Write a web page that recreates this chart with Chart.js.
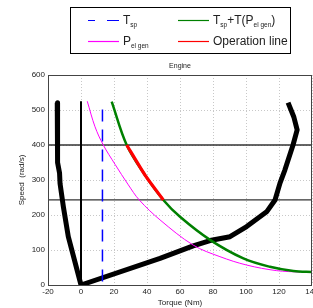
<!DOCTYPE html>
<html>
<head>
<meta charset="utf-8">
<script src="https://cdn.jsdelivr.net/npm/chart.js@4.4.1/dist/chart.umd.min.js"></script>
<style>
  html, body { margin: 0; padding: 0; background: #fff; }
  #wrap { width: 313px; height: 308px; position: relative; }
</style>
</head>
<body>
<div id="wrap"><canvas id="canvas1"></canvas></div>
<script>
// axis ranges
var torqueRange = [-20, 140];
var speedRange = [0, 600];

// engine map (thick black)
var engineTorque = [-14.4, -14.4, -14, -13, -12.7, -10.7, -7.7, 0, 47.9, 68, 78.2, 90.3, 100.4, 112.5, 117.6, 120.6, 123.6, 128.5, 131, 129, 125.5];
var engineSpeed  = [521, 400, 350, 320, 290, 224, 138, 0, 76, 112, 127, 138, 167, 209, 243, 291, 329, 400, 443, 480, 521];

// P el gen (magenta)
var pelTorque = [3.8, 8.5, 13.5, 20.6, 28.7, 35.3, 47.9, 68, 84.2, 100.4, 118.6, 132.7];
var pelSpeed  = [525, 452, 400, 345, 286, 243, 186, 114, 81, 57, 41, 37];

// Tsp + T(P el gen) (green)
var sumTorque = [18.6, 27.7, 38.8, 49.9, 60, 78.2, 98.4, 114.5, 128.7, 140.6];
var sumSpeed  = [524, 400, 314, 243, 195, 129, 76, 52, 40, 37];

// operation line (red) - part of the green curve
var opTorque = [27.7, 38.8, 49.9];
var opSpeed  = [400, 314, 243];

// Tsp (blue dashed)
var tspTorque = 13;
var tspSpeed = [10, 521];

// zero torque line and speed limits
var zeroSpeed = [0, 525];
var limitSpeeds = [400, 243];

function pts(xs, ys) {
    var out = [];
    for (var i = 0; i < xs.length; i++) out.push({x: xs[i], y: ys[i]});
    return out;
}

var datasets = [
    {label: 'Operation line', data: pts(opTorque, opSpeed), borderColor: '#ff0000', borderWidth: 3.2, tension: 0.2},
    {label: 'Tsp+T(Pelgen)', data: pts(sumTorque, sumSpeed), borderColor: '#008000', borderWidth: 2.5, tension: 0.35},
    {label: 'Pelgen', data: pts(pelTorque, pelSpeed), borderColor: '#ff00ff', borderWidth: 1, tension: 0.35},
    {label: 'Tsp', data: pts([tspTorque, tspTorque], tspSpeed), borderColor: '#0000ff', borderWidth: 1.5, borderDash: [12, 8]},
    {label: 'engine', data: pts(engineTorque, engineSpeed), borderColor: '#000', borderWidth: 5, borderJoinStyle: 'round', borderCapStyle: 'butt'},
    {label: 'zero', data: pts([0, 0], zeroSpeed), borderColor: '#000', borderWidth: 2}
];
for (var k = 0; k < limitSpeeds.length; k++) {
    datasets.push({label: 'limit' + k, data: pts(torqueRange, [limitSpeeds[k], limitSpeeds[k]]), borderColor: '#333', borderWidth: 1.3});
}

var legendItems = [
    {color: '#0000ff', dash: [7, 12, 12, 100], x: 88, y: 20.5, parts: [['T', 0], ['sp', 1]]},
    {color: '#008000', dash: [], x: 178, y: 20.5, parts: [['T', 0], ['sp', 1], ['+T(P', 0], ['el gen', 1], [')', 0]]},
    {color: '#ff00ff', dash: [], x: 88, y: 41.5, parts: [['P', 0], ['el gen', 1]]},
    {color: '#ff0000', dash: [], x: 178, y: 41.5, parts: [['Operation line', 0]]}
];

var framePlugin = {
    id: 'frame',
    afterDraw: function(chart) {
        var c = chart.ctx, a = chart.chartArea;
        c.save();
        c.strokeStyle = '#444';
        c.lineWidth = 1;
        c.strokeRect(a.left + 0.5, a.top + 0.5, a.right - a.left - 1, a.bottom - a.top);
        // title
        c.fillStyle = '#222';
        c.font = '7px "Liberation Sans"';
        c.textAlign = 'center';
        c.textBaseline = 'middle';
        c.fillText('Engine', 180, 66);
        // legend box
        c.strokeStyle = '#000';
        c.lineWidth = 1;
        c.strokeRect(70.5, 7.5, 220, 46);
        c.textAlign = 'left';
        c.textBaseline = 'alphabetic';
        legendItems.forEach(function(it) {
            c.strokeStyle = it.color;
            c.lineWidth = 1.2;
            c.setLineDash(it.dash);
            c.beginPath();
            c.moveTo(it.x, it.y);
            c.lineTo(it.x + 31, it.y);
            c.stroke();
            c.setLineDash([]);
            var tx = it.x + 35;
            c.fillStyle = '#222';
            it.parts.forEach(function(p) {
                if (p[1]) {
                    c.font = '6.5px "Liberation Sans"';
                    c.fillText(p[0], tx, it.y + 6.5);
                } else {
                    c.font = '12px "Liberation Sans"';
                    c.fillText(p[0], tx, it.y + 3.5);
                }
                tx += c.measureText(p[0]).width;
            });
        });
        c.restore();
    }
};

var ctx = document.getElementById('canvas1');
var chart = new Chart(ctx, {
    type: 'line',
    data: {datasets: datasets},
    options: {
        responsive: true,
        maintainAspectRatio: false,
        animation: false,
        layout: {padding: {top: 75, right: 1, left: 0, bottom: 0}},
        elements: {point: {radius: 0}, line: {tension: 0, fill: false}},
        plugins: {legend: {display: false}, tooltip: {enabled: false}},
        scales: {
            x: {
                type: 'linear', min: torqueRange[0], max: torqueRange[1],
                ticks: {stepSize: 20, color: '#222', font: {size: 8, family: 'Liberation Sans'}, padding: 2, maxRotation: 0},
                grid: {color: '#c8c8c8', drawTicks: false},
                border: {display: false, dash: [1, 2]},
                title: {display: true, text: 'Torque (Nm)', color: '#222', font: {size: 8, family: 'Liberation Sans'}, padding: 0},
                afterFit: function(s) { s.height = 23; s.paddingLeft = 0; s.paddingRight = 0; }
            },
            y: {
                type: 'linear', min: speedRange[0], max: speedRange[1],
                ticks: {stepSize: 100, color: '#222', font: {size: 8, family: 'Liberation Sans'}, padding: 3},
                grid: {color: '#c8c8c8', drawTicks: false},
                border: {display: false, dash: [1, 2]},
                title: {display: true, text: 'Speed  (rad/s)', color: '#222', font: {size: 8, family: 'Liberation Sans'}, padding: {top: 17, bottom: 0}},
                afterFit: function(s) { s.width = 48; s.paddingTop = 0; s.paddingBottom = 0; }
            }
        }
    },
    plugins: [framePlugin]
});
</script>
</body>
</html>
